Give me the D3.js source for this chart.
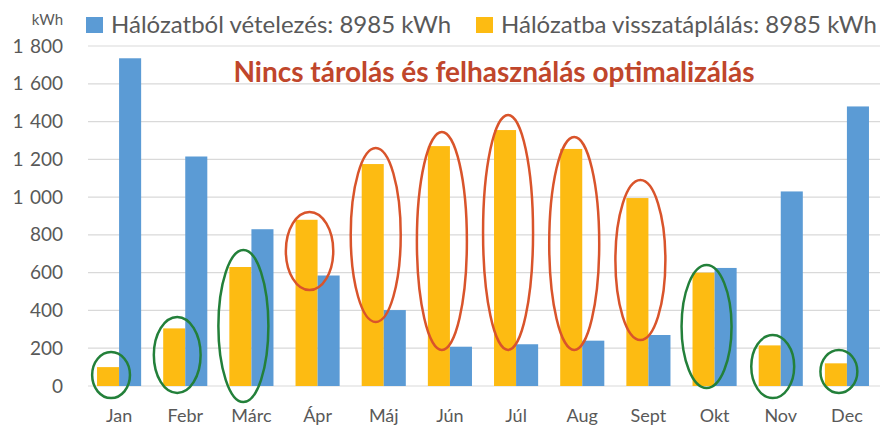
<!DOCTYPE html>
<html>
    <head>
        <meta charset='utf-8'>
        <title>Hálózat</title>
        <script src='https://cdn.jsdelivr.net/npm/d3@7/dist/d3.min.js'></script>
        <style>
            body { margin:0; background:#fff; }
            text { font-family: Lato, 'Open Sans', sans-serif; }
        </style>
    </head>
    <body>
        <div id='chart'></div>
        <script>
            var months = ["Jan", "Febr", "Márc", "Ápr", "Máj", "Jún", "Júl", "Aug", "Sept", "Okt", "Nov", "Dec"];
            var vetelezes = [1735, 1215, 830, 585, 402, 208, 221, 240, 270, 625, 1030, 1480];
            var visszataplalas = [100, 305, 630, 880, 1175, 1270, 1355, 1255, 995, 600, 215, 120];
            var yTicks = [0, 200, 400, 600, 800, 1000, 1200, 1400, 1600, 1800];
            var legendLabels = ["Hálózatból vételezés: 8985 kWh", "Hálózatba visszatáplálás: 8985 kWh"];
            var title = "Nincs tárolás és felhasználás optimalizálás";
            // annotation ellipses: vertical extent in kWh, and kind
            var ringTop = [180, 365, 720, 921, 1260, 1345, 1435, 1318, 1090, 640, 270, 191];
            var ringBottom = [-64, -37, -85, 508, 339, 191, 191, 191, 244, -11, -64, -37];
            var ringKind = ["g", "g", "g", "r", "r", "r", "r", "r", "r", "g", "g", "g"];

            var w = 885, h = 426;
            var blue = "#5B9BD5", orange = "#FDBB12";
            var gray = "#595959";

            var svg = d3.select("#chart").append("svg")
                        .attr("width", w)
                        .attr("height", h);

            var x = d3.scaleBand().domain(months).range([86, 880])
                        .paddingInner(1/3).paddingOuter(1/6);
            var xs = d3.scaleBand().domain(["v", "b"]).range([0, x.bandwidth()]);
            var y = d3.scaleLinear().domain([0, 1800]).range([386, 46]);

            // gridlines
            svg.selectAll("line.grid")
                .data(yTicks)
                .enter()
                .append("line")
                .attr("class", "grid")
                .attr("x1", 88)
                .attr("x2", 880)
                .attr("y1", function(d) { return y(d); })
                .attr("y2", function(d) { return y(d); })
                .attr("stroke", "#D9D9D9")
                .attr("stroke-width", 1.2);

            // y axis labels
            var yAxis = d3.axisLeft(y).tickValues(yTicks)
                        .tickSize(0).tickPadding(0)
                        .tickFormat(function(d) { return d3.format(",")(d).replace(",", "\u2004"); });
            var ya = svg.append("g").attr("transform", "translate(63,0)").call(yAxis);
            ya.select(".domain").remove();
            ya.selectAll("text")
                .attr("font-family", "Lato, sans-serif")
                .attr("font-size", "19px")
                .attr("fill", gray);

            svg.append("text")
                .text("kWh")
                .attr("x", 63)
                .attr("y", 25)
                .attr("text-anchor", "end")
                .attr("font-size", "15px")
                .attr("fill", gray);

            // x axis labels
            var xAxis = d3.axisBottom(x).tickSize(0).tickPadding(0);
            var xa = svg.append("g").attr("transform", "translate(0,409)").call(xAxis);
            xa.select(".domain").remove();
            xa.selectAll("text")
                .attr("font-family", "Lato, sans-serif")
                .attr("font-size", "18px")
                .attr("fill", gray);

            // bars
            svg.selectAll("rect.vissza")
                .data(visszataplalas)
                .enter()
                .append("rect")
                .attr("class", "vissza")
                .attr("x", function(d, i) { return x(months[i]) + xs("v"); })
                .attr("y", function(d) { return y(d); })
                .attr("width", xs.bandwidth())
                .attr("height", function(d) { return y(0) - y(d); })
                .attr("fill", orange);

            svg.selectAll("rect.vetel")
                .data(vetelezes)
                .enter()
                .append("rect")
                .attr("class", "vetel")
                .attr("x", function(d, i) { return x(months[i]) + xs("b"); })
                .attr("y", function(d) { return y(d); })
                .attr("width", xs.bandwidth())
                .attr("height", function(d) { return y(0) - y(d); })
                .attr("fill", blue);

            // rings
            svg.selectAll("ellipse")
                .data(ringTop)
                .enter()
                .append("ellipse")
                .attr("cx", function(d, i) { return x(months[i]) + xs("v") + xs.bandwidth() / 2 + 3; })
                .attr("cy", function(d, i) { return (y(d) + y(ringBottom[i])) / 2; })
                .attr("ry", function(d, i) { return (y(ringBottom[i]) - y(d)) / 2; })
                .attr("rx", function(d, i) {
                    var ry = (y(ringBottom[i]) - y(d)) / 2;
                    return Math.min(25, 12 + ry * 0.3);
                })
                .attr("fill", "none")
                .attr("stroke", function(d, i) { return ringKind[i] == "r" ? "#D9542B" : "#23803A"; })
                .attr("stroke-width", 2.5);

            // title
            svg.append("text")
                .text(title)
                .attr("x", 494)
                .attr("y", 82)
                .attr("text-anchor", "middle")
                .attr("font-size", "28px")
                .attr("font-weight", "bold")
                .attr("fill", "#C0462B");

            // legend
            var legX = [86, 476];
            var legColors = [blue, orange];
            var leg = svg.selectAll("g.leg")
                .data(legendLabels)
                .enter()
                .append("g")
                .attr("class", "leg")
                .attr("transform", function(d, i) { return "translate(" + legX[i] + ",0)"; });
            leg.append("rect")
                .attr("x", 0)
                .attr("y", 17)
                .attr("width", 17)
                .attr("height", 16)
                .attr("fill", function(d, i) { return legColors[i]; });
            leg.append("text")
                .text(function(d) { return d; })
                .attr("x", 25)
                .attr("y", 33)
                .attr("font-size", "24px")
                .attr("fill", gray);
        </script>
    </body>
</html>
